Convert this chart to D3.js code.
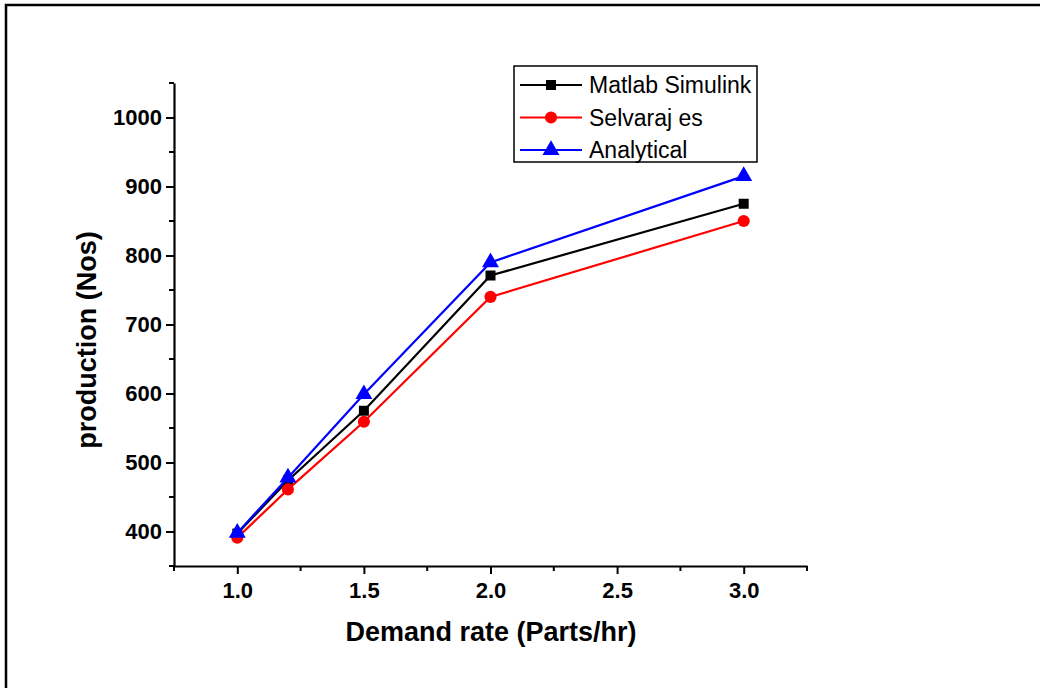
<!DOCTYPE html>
<html>
<head>
<meta charset="utf-8">
<script src="https://cdn.jsdelivr.net/npm/d3@7"></script>
<style>
  body { margin: 0; background: #fff; }
  svg { display: block; }
  text { font-family: Arial, "Liberation Sans", sans-serif; }
</style>
</head>
<body>
<svg id="chart" width="1040" height="688"></svg>
<script>
// demand rate values on the x axis
var demand = [1.0, 1.2, 1.5, 2.0, 3.0]

var matlab = [397, 474, 575, 771, 875]
var selvaraj = [391, 461, 559, 740, 850]
var analytical = [398, 478, 599, 790, 915]

var seriesNames = ['Matlab Simulink', 'Selvaraj es', 'Analytical']
var xTicks = [1.0, 1.5, 2.0, 2.5, 3.0]
var yTicks = [400, 500, 600, 700, 800, 900, 1000]

var svg = d3.select('#chart')

// outer frame (only top and left edges visible)
svg.append('path')
  .attr('d', 'M6,688 L6,5 L1040,5')
  .attr('fill', 'none')
  .attr('stroke', '#000')
  .attr('stroke-width', 2.5)

var plotLeft = 174, plotRight = 807, plotTop = 83, plotBottom = 566

var x = d3.scaleLinear().domain([0.75, 3.25]).range([plotLeft, plotRight])
var y = d3.scaleLinear().domain([350, 1050]).range([plotBottom, plotTop])

// minor ticks
var xMinor = [0.75, 1.25, 1.75, 2.25, 2.75, 3.25]
var yMinor = [350, 450, 550, 650, 750, 850, 950, 1050]

var g = svg.append('g')

g.selectAll('.xminor').data(xMinor).enter().append('line')
  .attr('x1', function (d) { return x(d) }).attr('x2', function (d) { return x(d) })
  .attr('y1', plotBottom).attr('y2', plotBottom + 5)
  .attr('stroke', '#000').attr('stroke-width', 2)

g.selectAll('.yminor').data(yMinor).enter().append('line')
  .attr('y1', function (d) { return y(d) }).attr('y2', function (d) { return y(d) })
  .attr('x1', plotLeft).attr('x2', plotLeft - 5)
  .attr('stroke', '#000').attr('stroke-width', 2)

var xAxis = d3.axisBottom(x).tickValues(xTicks).tickFormat(d3.format('.1f')).tickSize(8).tickPadding(8)
var yAxis = d3.axisLeft(y).tickValues(yTicks).tickFormat(d3.format('d')).tickSize(8).tickPadding(4)

function styleAxis (sel) {
  sel.select('.domain').attr('stroke-width', 2.2)
  sel.selectAll('.tick line').attr('stroke-width', 2)
  sel.selectAll('.tick text')
    .style('font-family', 'Arial, "Liberation Sans", sans-serif')
    .style('font-size', '22px').style('font-weight', 'bold').attr('fill', '#000')
}

svg.append('g').attr('transform', 'translate(0,' + plotBottom + ')')
  .call(xAxis.tickSizeOuter(0)).call(styleAxis)
svg.append('g').attr('transform', 'translate(' + plotLeft + ',0)')
  .call(yAxis.tickSizeOuter(0)).call(styleAxis)

// axis titles
svg.append('text')
  .attr('x', 491).attr('y', 641)
  .attr('text-anchor', 'middle')
  .style('font-size', '27px').style('font-weight', 'bold')
  .text('Demand rate (Parts/hr)')

svg.append('text')
  .attr('transform', 'translate(96,340) rotate(-90)')
  .attr('text-anchor', 'middle')
  .style('font-size', '27px').style('font-weight', 'bold')
  .text('production (Nos)')

var series = [
  { name: seriesNames[0], values: matlab, color: '#000', sym: d3.symbolSquare, size: 100 },
  { name: seriesNames[1], values: selvaraj, color: '#ff0000', sym: d3.symbolCircle, size: 115 },
  { name: seriesNames[2], values: analytical, color: '#0000ff', sym: d3.symbolTriangle, size: 125 }
]

var line = d3.line()
  .x(function (d, i) { return x(demand[i]) })
  .y(function (d) { return y(d) })

series.forEach(function (s) {
  svg.append('path')
    .datum(s.values)
    .attr('d', line)
    .attr('fill', 'none')
    .attr('stroke', s.color)
    .attr('stroke-width', 2.2)

  svg.selectAll(null).data(s.values).enter().append('path')
    .attr('d', d3.symbol().type(s.sym).size(s.size))
    .attr('transform', function (d, i) { return 'translate(' + x(demand[i]) + ',' + y(d) + ')' })
    .attr('fill', s.color)
})

// legend
var lg = svg.append('g').attr('transform', 'translate(514,66)')
lg.append('rect')
  .attr('width', 243).attr('height', 96)
  .attr('fill', '#fff').attr('stroke', '#000').attr('stroke-width', 1.5)

series.forEach(function (s, i) {
  var yy = 19 + i * 32.5
  lg.append('line')
    .attr('x1', 6).attr('x2', 68).attr('y1', yy).attr('y2', yy)
    .attr('stroke', s.color).attr('stroke-width', 2.2)
  lg.append('path')
    .attr('d', d3.symbol().type(s.sym).size(s.size))
    .attr('transform', 'translate(37,' + yy + ')')
    .attr('fill', s.color)
  lg.append('text')
    .attr('x', 75).attr('y', yy + 8)
    .style('font-size', '23px')
    .text(s.name)
})
</script>
</body>
</html>
